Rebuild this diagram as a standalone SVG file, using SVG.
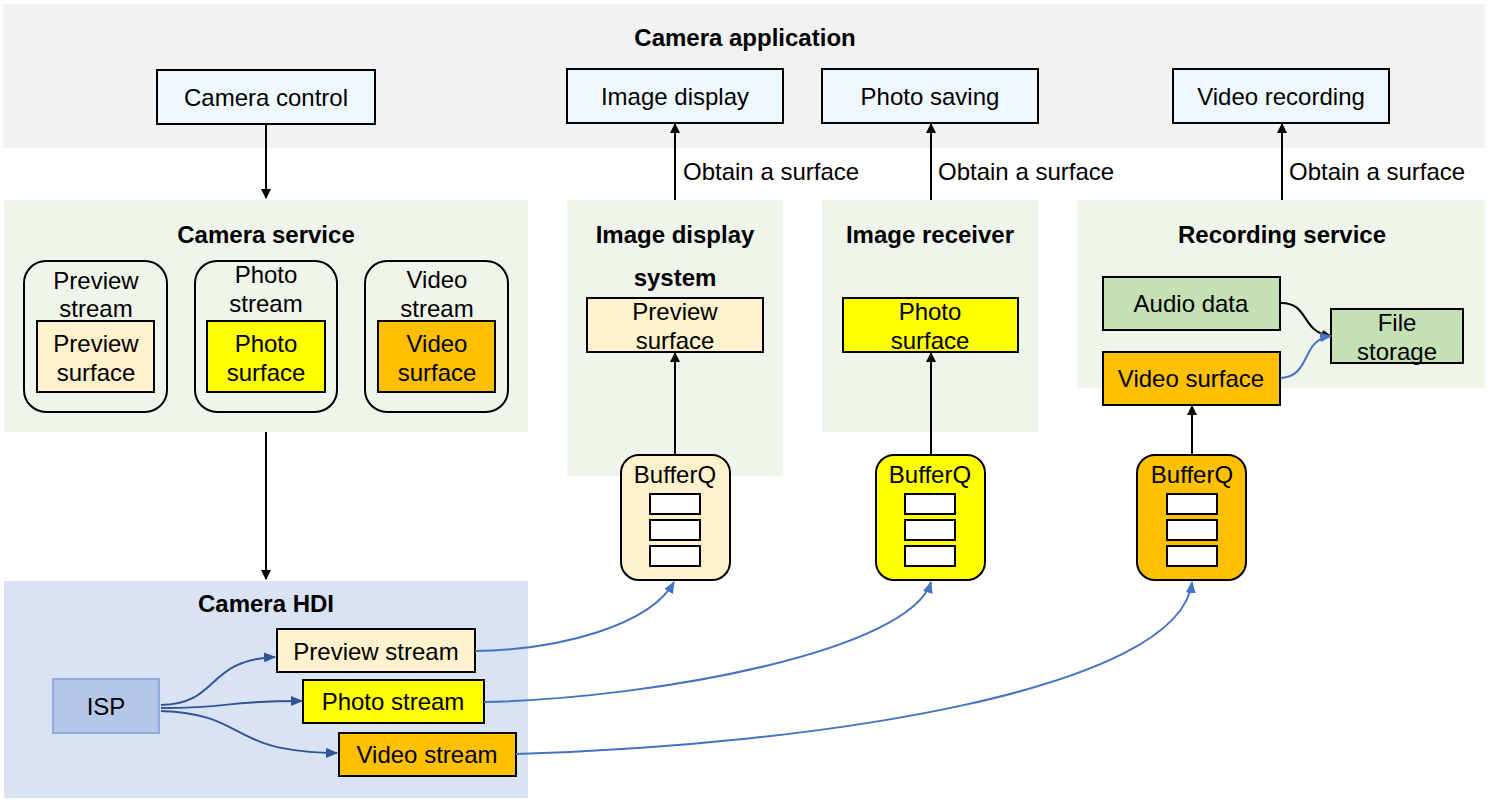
<svg xmlns="http://www.w3.org/2000/svg" width="1488" height="802" viewBox="0 0 1488 802">
<defs>
<style>
text{font-family:"Liberation Sans",Arial,sans-serif;font-size:24px;fill:#000;text-anchor:middle}
.t{font-weight:bold}
.l{text-anchor:start}
.box{stroke:#000;stroke-width:2}
.app{fill:#f0f8ff}
.lp{fill:#fff2cc}
.ye{fill:#ffff00}
.or{fill:#ffc000}
.gr{fill:#c5e0b4}
.panel{fill:#f0f5eb}
.wb{fill:#fff;stroke:#000;stroke-width:2}
.k{fill:none;stroke:#000;stroke-width:2}
.b{fill:none;stroke:#4472c4;stroke-width:2}
.d{fill:none;stroke:#2f5597;stroke-width:2}
</style>
<marker id="ak" markerWidth="10" markerHeight="10" refX="9" refY="5" orient="auto" markerUnits="userSpaceOnUse"><path d="M0,0 L10,5 L0,10 Z" fill="#000"/></marker>
<marker id="ab" markerWidth="12" markerHeight="10" refX="11" refY="5" orient="auto" markerUnits="userSpaceOnUse"><path d="M0,0 L12,5 L0,10 Z" fill="#4472c4"/></marker>
<marker id="ad" markerWidth="12" markerHeight="10" refX="11" refY="5" orient="auto" markerUnits="userSpaceOnUse"><path d="M0,0 L12,5 L0,10 Z" fill="#2f5597"/></marker>
</defs>

<g id="camera-application">
<rect x="3" y="4" width="1482" height="144" fill="#f2f2f2"/>
<text class="t" x="745" y="46">Camera application</text>
</g>
<g id="camera-control"><rect class="box app" x="157" y="70" width="218" height="54"/><text x="266" y="106">Camera control</text></g>
<g id="image-display"><rect class="box app" x="567" y="69" width="216" height="54"/><text x="675" y="105">Image display</text></g>
<g id="photo-saving"><rect class="box app" x="822" y="69" width="216" height="54"/><text x="930" y="105">Photo saving</text></g>
<g id="video-recording"><rect class="box app" x="1173" y="69" width="216" height="54"/><text x="1281" y="105">Video recording</text></g>

<g id="camera-service">
<rect class="panel" x="4" y="200" width="524" height="232"/>
<text class="t" x="266" y="243">Camera service</text>
</g>
<g id="preview-stream-cs">
<rect x="24" y="261" width="143" height="151" rx="22" fill="none" stroke="#000" stroke-width="2"/>
<text x="96" y="289">Preview</text><text x="96" y="317">stream</text>
</g>
<g id="preview-surface-cs"><rect class="box lp" x="37" y="321" width="117" height="71"/><text x="96" y="352">Preview</text><text x="96" y="381">surface</text></g>
<g id="photo-stream-cs">
<rect x="195" y="261" width="142" height="151" rx="22" fill="none" stroke="#000" stroke-width="2"/>
<text x="266" y="283">Photo</text><text x="266" y="312">stream</text>
</g>
<g id="photo-surface-cs"><rect class="box ye" x="207" y="321" width="118" height="71"/><text x="266" y="352">Photo</text><text x="266" y="381">surface</text></g>
<g id="video-stream-cs">
<rect x="365" y="261" width="143" height="151" rx="22" fill="none" stroke="#000" stroke-width="2"/>
<text x="437" y="288">Video</text><text x="437" y="317">stream</text>
</g>
<g id="video-surface-cs"><rect class="box or" x="378" y="321" width="117" height="71"/><text x="437" y="352">Video</text><text x="437" y="381">surface</text></g>

<g id="image-display-system">
<rect class="panel" x="567" y="200" width="216" height="276"/>
<text class="t" x="675" y="243">Image display</text>
<text class="t" x="675" y="286">system</text>
</g>
<g id="preview-surface"><rect class="box lp" x="587" y="298" width="176" height="54"/><text x="675" y="320">Preview</text><text x="675" y="349">surface</text></g>

<g id="image-receiver">
<rect class="panel" x="822" y="200" width="216" height="232"/>
<text class="t" x="930" y="243">Image receiver</text>
</g>
<g id="photo-surface"><rect class="box ye" x="843" y="298" width="175" height="54"/><text x="930" y="320">Photo</text><text x="930" y="349">surface</text></g>

<g id="recording-service">
<rect class="panel" x="1077" y="200" width="408" height="188"/>
<text class="t" x="1282" y="243">Recording service</text>
</g>
<g id="audio-data"><rect class="box gr" x="1103" y="277" width="177" height="53"/><text x="1191" y="312">Audio data</text></g>
<g id="video-surface"><rect class="box or" x="1103" y="352" width="177" height="53"/><text x="1191" y="387">Video surface</text></g>
<g id="file-storage"><rect class="box gr" x="1331" y="309" width="132" height="54"/><text x="1397" y="331">File</text><text x="1397" y="360">storage</text></g>

<g id="bufferq-preview">
<rect class="box lp" x="621" y="455" width="109" height="125" rx="18"/>
<text x="675" y="483">BufferQ</text>
<rect class="wb" x="650" y="494" width="50" height="20"/><rect class="wb" x="650" y="520" width="50" height="20"/><rect class="wb" x="650" y="546" width="50" height="20"/>
</g>
<g id="bufferq-photo">
<rect class="box ye" x="876" y="455" width="109" height="125" rx="18"/>
<text x="930" y="483">BufferQ</text>
<rect class="wb" x="905" y="494" width="50" height="20"/><rect class="wb" x="905" y="520" width="50" height="20"/><rect class="wb" x="905" y="546" width="50" height="20"/>
</g>
<g id="bufferq-video">
<rect class="box or" x="1137" y="455" width="109" height="125" rx="18"/>
<text x="1192" y="483">BufferQ</text>
<rect class="wb" x="1167" y="494" width="50" height="20"/><rect class="wb" x="1167" y="520" width="50" height="20"/><rect class="wb" x="1167" y="546" width="50" height="20"/>
</g>

<g id="camera-hdi">
<rect x="4" y="581" width="524" height="217" fill="#dae3f3"/>
<text class="t" x="266" y="612">Camera HDI</text>
</g>
<g id="isp"><rect x="53" y="679" width="106" height="54" fill="#b4c7e7" stroke="#8faadc" stroke-width="2"/><text x="106" y="715">ISP</text></g>
<g id="preview-stream"><rect class="box lp" x="277" y="629" width="198" height="43"/><text x="376" y="660">Preview stream</text></g>
<g id="photo-stream"><rect class="box ye" x="303" y="680" width="181" height="43"/><text x="393" y="710">Photo stream</text></g>
<g id="video-stream"><rect class="box or" x="339" y="733" width="177" height="43"/><text x="427" y="763">Video stream</text></g>

<g id="connectors">
<path class="k" d="M266,124 L266,198" marker-end="url(#ak)"/>
<path class="k" d="M675,200 L675,124" marker-end="url(#ak)"/>
<path class="k" d="M931,200 L931,124" marker-end="url(#ak)"/>
<path class="k" d="M1282,200 L1282,124" marker-end="url(#ak)"/>
<path class="k" d="M266,432 L266,579" marker-end="url(#ak)"/>
<path class="k" d="M675,455 L675,353" marker-end="url(#ak)"/>
<path class="k" d="M931,455 L931,353" marker-end="url(#ak)"/>
<path class="k" d="M1192,455 L1192,406" marker-end="url(#ak)"/>
<path class="k" d="M1281,303 C1310,303 1300,332 1331,336" marker-end="url(#ak)"/>
<path class="b" d="M1281,378 C1312,376 1300,340 1331,336" marker-end="url(#ab)"/>
<path class="b" d="M475,651 C560,650 650,625 674,582" marker-end="url(#ab)"/>
<path class="b" d="M484,702 C660,698 910,650 931,582" marker-end="url(#ab)"/>
<path class="b" d="M516,754 C820,745 1180,690 1192,582" marker-end="url(#ab)"/>
<path class="d" d="M161,705 C220,704 205,660 275,657" marker-end="url(#ad)"/>
<path class="d" d="M161,708 C240,708 215,701 302,701" marker-end="url(#ad)"/>
<path class="d" d="M161,711 C250,714 225,752 337,753" marker-end="url(#ad)"/>
<text class="l" x="683" y="180">Obtain a surface</text>
<text class="l" x="938" y="180">Obtain a surface</text>
<text class="l" x="1289" y="180">Obtain a surface</text>
</g>
</svg>
